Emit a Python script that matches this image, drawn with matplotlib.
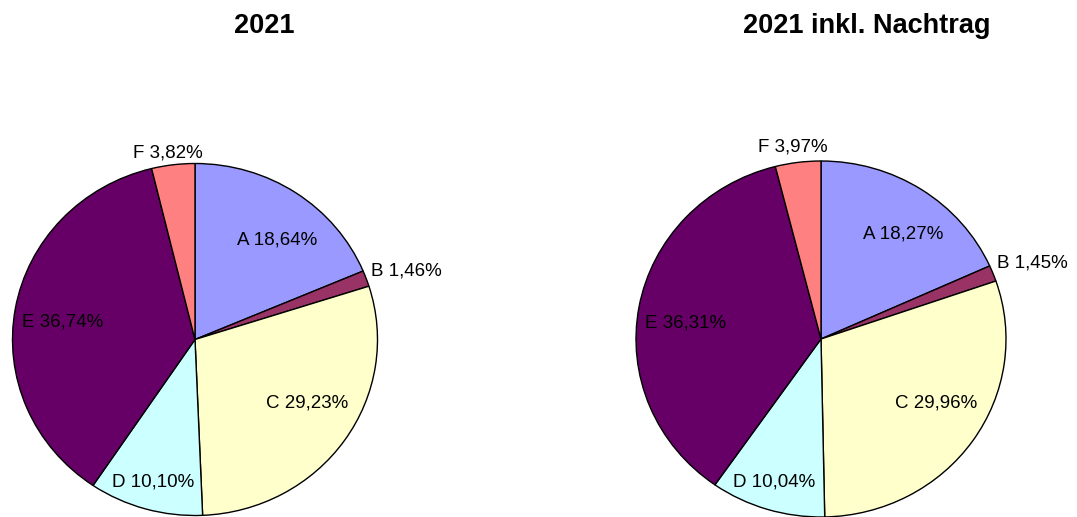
import numpy as np
import matplotlib
matplotlib.use("Agg")
import matplotlib.pyplot as plt

plt.rcParams["font.family"] = ["Liberation Sans", "DejaVu Sans"]

# data
names = ["A", "B", "C", "D", "E", "F"]
vals_2021 = [18.64, 1.46, 29.23, 10.10, 36.74, 3.82]
vals_nachtrag = [18.27, 1.45, 29.96, 10.04, 36.31, 3.97]
titles = ["2021", "2021 inkl. Nachtrag"]

colors = ["#9999FF", "#993366", "#FFFFCC", "#CCFFFF", "#660066", "#FF8080"]

# label placement: distance from centre (fraction of radius) and
# angle shift (deg) from the wedge middle, per slice
lab_r_left = [0.72, 1.22, 0.71, 0.84, 0.73, 1.07]
lab_dth_left = [-5, -1.7, 4.5, 0, 2.4, 1]
lab_r_right = [0.74, 1.22, 0.72, 0.84, 0.74, 1.09]
lab_dth_right = [-4, -1.2, 5, -0.5, 3.4, 1]

W, H = 1077, 517
fig = plt.figure(figsize=(W / 100, H / 100), dpi=100)

def pie_axes(cx, cy, rx, ry):
    # pixel box (from top-left) -> figure fraction
    return fig.add_axes([(cx - rx) / W, (H - (cy + ry)) / H, 2 * rx / W, 2 * ry / H])

def draw(ax, vals, lab_r, lab_dth):
    wedges, _ = ax.pie(vals, colors=colors, startangle=90, counterclock=False,
                       wedgeprops={"edgecolor": "black", "linewidth": 1.0})
    for w in wedges:
        w.set_clip_on(False)
    ax.set_aspect("auto")
    ax.set_xlim(-1, 1)
    ax.set_ylim(-1, 1)
    ax.axis("off")
    for w, n, v, r, d in zip(wedges, names, vals, lab_r, lab_dth):
        th = np.deg2rad((w.theta1 + w.theta2) / 2 + d)
        txt = f"{n} {v:.2f}%".replace(".", ",")
        ax.text(r * np.cos(th), r * np.sin(th), txt, ha="center", va="center",
                fontsize=13.5, color="black")

ax1 = pie_axes(195, 339.5, 182.5, 176)
draw(ax1, vals_2021, lab_r_left, lab_dth_left)
ax2 = pie_axes(821, 339, 185, 178)
draw(ax2, vals_nachtrag, lab_r_right, lab_dth_right)

fig.text(264.5 / W, 1 - 26 / H, titles[0], ha="center", va="center",
         fontsize=19.5, fontweight="bold")
fig.text(866.5 / W, 1 - 26 / H, titles[1], ha="center", va="center",
         fontsize=19.5, fontweight="bold")

fig.savefig("out.png", dpi=100)
